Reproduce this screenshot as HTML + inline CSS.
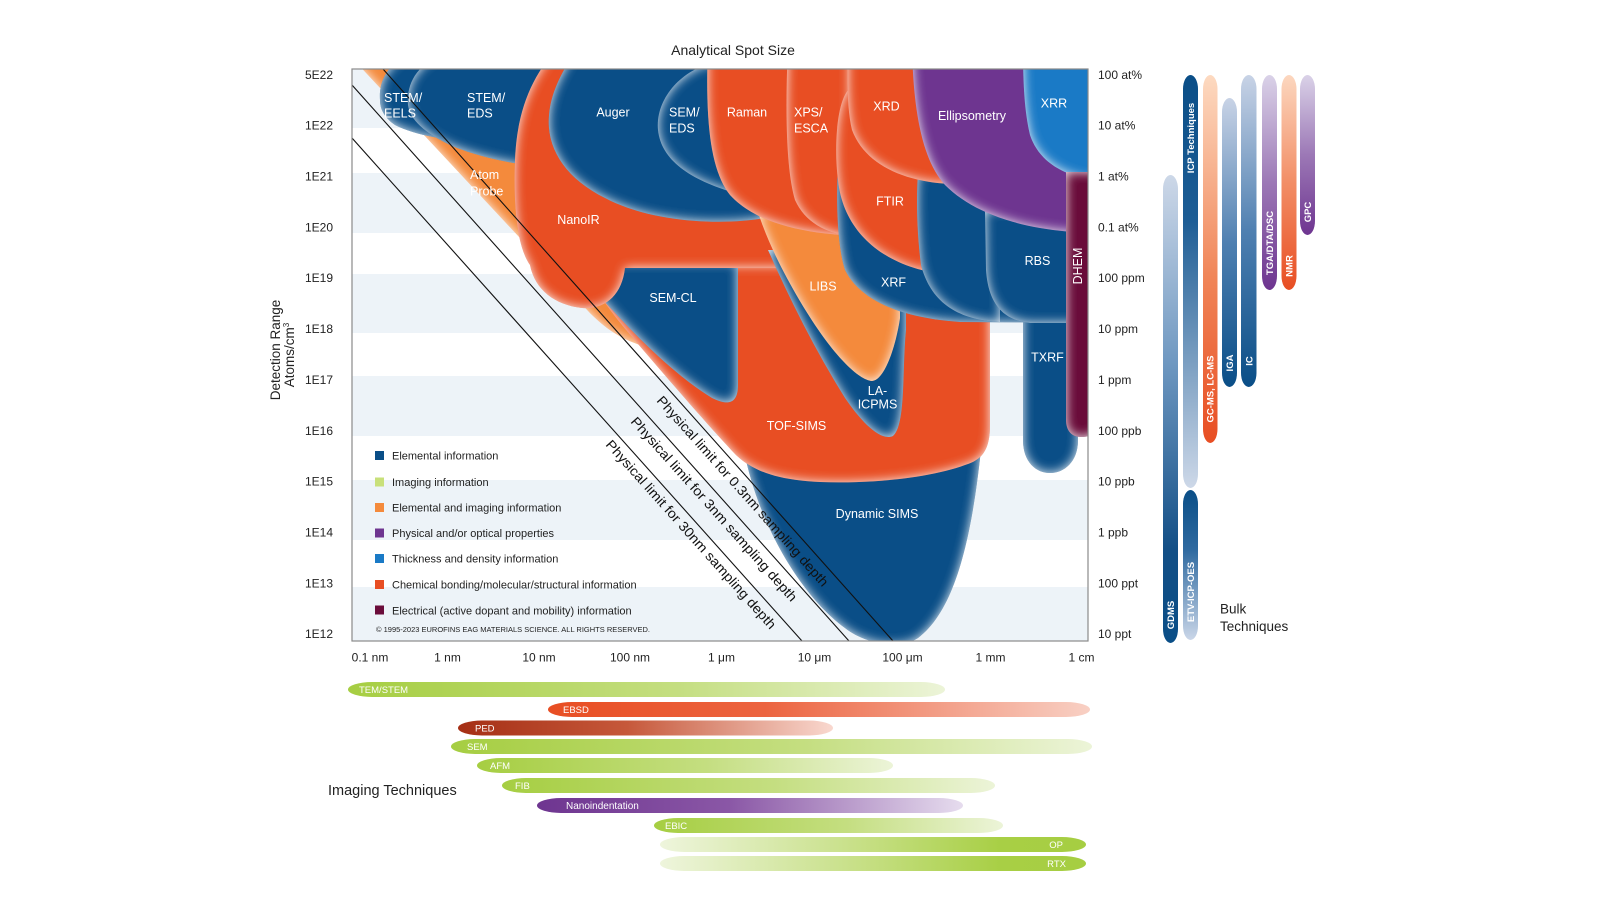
<!DOCTYPE html>
<html>
<head>
<meta charset="utf-8">
<style>
  html,body{margin:0;padding:0;background:#fff;}
  svg{display:block;}
  text{font-family:"Liberation Sans",Arial,sans-serif;}
</style>
</head>
<body>
<svg width="1600" height="900" viewBox="0 0 1600 900" xmlns="http://www.w3.org/2000/svg">
<defs>
  <clipPath id="plot"><rect x="352" y="69" width="736" height="572"/></clipPath>
  <filter id="glow" x="-10%" y="-10%" width="120%" height="120%" color-interpolation-filters="sRGB">
    <feGaussianBlur in="SourceAlpha" stdDeviation="5.5" result="b"/>
    <feComponentTransfer in="b" result="inv"><feFuncA type="table" tableValues="1 0"/></feComponentTransfer>
    <feFlood flood-color="#ffffff" flood-opacity="0.95" result="w"/>
    <feComposite in="w" in2="inv" operator="in" result="wi"/>
    <feComposite in="wi" in2="SourceAlpha" operator="in" result="gl"/>
    <feMerge><feMergeNode in="SourceGraphic"/><feMergeNode in="gl"/></feMerge>
  </filter>
  <!-- bulk gradients (vertical) -->
  <linearGradient id="gGDMS" x1="0" y1="0" x2="0" y2="1"><stop offset="0" stop-color="#cdd8e8"/><stop offset="0.4" stop-color="#6f98c1"/><stop offset="0.8" stop-color="#134f86"/><stop offset="1" stop-color="#0a4e87"/></linearGradient>
  <linearGradient id="gICP" x1="0" y1="0" x2="0" y2="1"><stop offset="0" stop-color="#0a4e87"/><stop offset="0.35" stop-color="#1d5d95"/><stop offset="1" stop-color="#cdd8e8"/></linearGradient>
  <linearGradient id="gETV" x1="0" y1="0" x2="0" y2="1"><stop offset="0" stop-color="#0a4e87"/><stop offset="0.4" stop-color="#2f6aa0"/><stop offset="1" stop-color="#cad6e8"/></linearGradient>
  <linearGradient id="gGC" x1="0" y1="0" x2="0" y2="1"><stop offset="0" stop-color="#fddac1"/><stop offset="0.55" stop-color="#f08558"/><stop offset="1" stop-color="#e84e23"/></linearGradient>
  <linearGradient id="gIGA" x1="0" y1="0" x2="0" y2="1"><stop offset="0" stop-color="#c8d3e6"/><stop offset="0.5" stop-color="#4f80b1"/><stop offset="1" stop-color="#0a4e87"/></linearGradient>
  <linearGradient id="gTGA" x1="0" y1="0" x2="0" y2="1"><stop offset="0" stop-color="#dad2e8"/><stop offset="0.5" stop-color="#9c78b6"/><stop offset="1" stop-color="#6e3590"/></linearGradient>
  <linearGradient id="gNMR" x1="0" y1="0" x2="0" y2="1"><stop offset="0" stop-color="#fcd7bf"/><stop offset="0.5" stop-color="#f28e66"/><stop offset="1" stop-color="#e84e23"/></linearGradient>
  <!-- imaging gradients (horizontal) -->
  <linearGradient id="hGreen" x1="0" y1="0" x2="1" y2="0"><stop offset="0" stop-color="#a6ce42"/><stop offset="0.55" stop-color="#c4de80"/><stop offset="1" stop-color="#ecf4d8"/></linearGradient>
  <linearGradient id="hGreenR" x1="0" y1="0" x2="1" y2="0"><stop offset="0" stop-color="#eef5dc"/><stop offset="0.5" stop-color="#c4de80"/><stop offset="0.8" stop-color="#a8cf45"/><stop offset="1" stop-color="#a6ce42"/></linearGradient>
  <linearGradient id="hRed" x1="0" y1="0" x2="1" y2="0"><stop offset="0" stop-color="#e84e23"/><stop offset="0.4" stop-color="#ec6440"/><stop offset="1" stop-color="#f8d0c4"/></linearGradient>
  <linearGradient id="hPED" x1="0" y1="0" x2="1" y2="0"><stop offset="0" stop-color="#a52f15"/><stop offset="0.45" stop-color="#c6583a"/><stop offset="1" stop-color="#f9d8cf"/></linearGradient>
  <linearGradient id="hPur" x1="0" y1="0" x2="1" y2="0"><stop offset="0" stop-color="#6e3590"/><stop offset="0.45" stop-color="#8a57a6"/><stop offset="1" stop-color="#e6dcee"/></linearGradient>
</defs>

<rect width="1600" height="900" fill="#ffffff"/>

<!-- plot background bands -->
<g fill="#edf3f8">
  <rect x="352" y="69" width="736" height="59"/>
  <rect x="352" y="173" width="736" height="60"/>
  <rect x="352" y="274" width="736" height="59"/>
  <rect x="352" y="376" width="736" height="60"/>
  <rect x="352" y="480" width="736" height="60"/>
  <rect x="352" y="587" width="736" height="54"/>
</g>

<!-- technique regions -->
<g clip-path="url(#plot)">
  <!-- Atom Probe -->
  <path filter="url(#glow)" fill="#f48a3c" d="M340,45 L438,150 L590,313 C610,333 630,345 662,350 L690,300 L640,40 Z"/>
  <!-- Dynamic SIMS -->
  <path filter="url(#glow)" fill="#0a4e87" d="M742,440 C755,520 800,595 845,628 C865,644 900,650 918,638 C955,610 972,540 982,440 Z"/>
  <!-- TOF-SIMS -->
  <path filter="url(#glow)" fill="#e84e23" d="M580,265 L990,265 L990,425 C990,450 982,460 965,465 C930,478 870,484 820,482 C775,480 752,470 736,455 C705,422 662,372 632,337 C612,314 595,290 580,265 Z"/>
  <!-- SEM-CL -->
  <path filter="url(#glow)" fill="#0a4e87" d="M588,262 L738,262 L738,385 C738,404 728,406 712,398 C670,372 630,330 596,292 Z"/>
  <!-- STEM/EELS -->
  <path filter="url(#glow)" fill="#0a4e87" d="M380,100 C378,70 400,52 440,45 L520,45 L520,140 C470,145 420,138 395,125 C385,118 380,110 380,100 Z"/>
  <!-- STEM/EDS -->
  <path filter="url(#glow)" fill="#0a4e87" d="M408,105 C406,80 420,62 450,50 L560,50 L560,168 C520,166 480,158 450,145 C425,133 410,120 408,105 Z"/>
  <!-- NanoIR -->
  <path filter="url(#glow)" fill="#e84e23" d="M560,45 L790,45 L790,268 L625,268 C622,295 605,310 582,308 C555,305 535,290 530,265 C518,248 513,210 515,160 C517,110 532,75 560,45 Z"/>
  <!-- Auger -->
  <path filter="url(#glow)" fill="#0a4e87" d="M580,45 L765,45 L765,218 C720,226 650,222 605,198 C565,178 546,148 549,115 C551,92 562,70 580,45 Z"/>
  <!-- SEM/EDS -->
  <path filter="url(#glow)" fill="#0a4e87" d="M715,62 C680,70 655,100 658,130 C661,160 690,180 735,193 L740,62 Z"/>
  <!-- LA-ICPMS -->
  <path filter="url(#glow)" fill="#0a4e87" d="M768,250 L906,250 L906,330 C902,370 906,425 893,436 C880,442 860,420 845,398 C815,350 790,300 768,250 Z"/>
  <!-- LIBS -->
  <path filter="url(#glow)" fill="#f48a3c" d="M758,212 L900,212 L900,318 C896,345 885,380 872,381 C858,380 835,355 815,325 C795,295 770,250 758,212 Z"/>
  <!-- Raman -->
  <path filter="url(#glow)" fill="#e84e23" d="M708,45 C705,120 710,170 730,195 C755,222 800,234 860,236 L860,45 Z"/>
  <!-- XPS/ESCA -->
  <path filter="url(#glow)" fill="#e84e23" d="M788,45 C785,110 786,170 795,200 C805,222 825,233 850,236 L850,45 Z"/>
  <!-- TXRF -->
  <path filter="url(#glow)" fill="#0a4e87" d="M1023,300 L1078,300 L1078,440 C1078,462 1064,473 1050,473 C1036,473 1023,462 1023,440 Z"/>
  <!-- XRF -->
  <path filter="url(#glow)" fill="#0a4e87" d="M838,165 L1110,165 L1110,323 L960,322 C900,318 860,300 845,270 C837,245 836,200 838,165 Z"/>
  <!-- FTIR -->
  <path filter="url(#glow)" fill="#e84e23" d="M850,88 C836,100 834,150 838,180 C843,230 880,262 930,272 L935,88 Z"/>
  <!-- middle blue blob -->
  <path filter="url(#glow)" fill="#0a4e87" d="M918,172 L1000,172 L1000,322 C955,320 930,300 921,265 C917,235 916,200 918,172 Z"/>
  <!-- RBS -->
  <path filter="url(#glow)" fill="#0a4e87" d="M985,210 L1110,210 L1110,323 L1030,323 C1000,320 988,300 986,270 Z"/>
  <!-- XRD -->
  <path filter="url(#glow)" fill="#e84e23" d="M848,45 L950,45 L950,184 C905,182 865,165 852,130 C847,110 847,80 848,45 Z"/>
  <!-- Ellipsometry -->
  <path filter="url(#glow)" fill="#6e3590" d="M912,45 L1110,45 L1110,233 C1030,234 975,215 945,185 C922,160 913,110 912,45 Z"/>
  <!-- XRR -->
  <path filter="url(#glow)" fill="#1a7ac6" d="M1023,45 L1110,45 L1110,181 C1070,180 1040,165 1030,135 C1024,110 1023,80 1023,45 Z"/>
  <!-- DHEM -->
  <path filter="url(#glow)" fill="#6a0c3a" d="M1066,172 L1100,172 L1100,420 C1100,432 1092,437 1081,437 C1071,437 1066,430 1066,420 Z"/>

  <!-- physical limit lines -->
  <g stroke="#111" stroke-width="1.1">
    <line x1="383" y1="69" x2="893" y2="641"/>
    <line x1="352" y1="85" x2="849" y2="641"/>
    <line x1="352" y1="138" x2="802" y2="641"/>
  </g>
</g>

<!-- plot border -->
<rect x="352" y="69" width="736" height="572" fill="none" stroke="#8a8a8a" stroke-width="1.2"/>

<!-- region labels -->
<g fill="#ffffff" font-size="12.5">
  <text x="384" y="102">STEM/</text>
  <text x="384" y="117.5">EELS</text>
  <text x="467" y="102">STEM/</text>
  <text x="467" y="117.5">EDS</text>
  <text x="470" y="179">Atom</text>
  <text x="470" y="195.5">Probe</text>
  <text x="613" y="116.5" text-anchor="middle">Auger</text>
  <text x="669" y="116.5">SEM/</text>
  <text x="669" y="132.5">EDS</text>
  <text x="747" y="116.5" text-anchor="middle">Raman</text>
  <text x="794" y="116.5">XPS/</text>
  <text x="794" y="132.5">ESCA</text>
  <text x="578.5" y="224" text-anchor="middle">NanoIR</text>
  <text x="673" y="302" text-anchor="middle">SEM-CL</text>
  <text x="823" y="290.5" text-anchor="middle">LIBS</text>
  <text x="886.5" y="110.5" text-anchor="middle">XRD</text>
  <text x="972" y="120" text-anchor="middle">Ellipsometry</text>
  <text x="1054" y="107.5" text-anchor="middle">XRR</text>
  <text x="890" y="205.5" text-anchor="middle">FTIR</text>
  <text x="893.5" y="286.5" text-anchor="middle">XRF</text>
  <text x="1037.5" y="265" text-anchor="middle">RBS</text>
  <text x="1047.5" y="361.5" text-anchor="middle">TXRF</text>
  <text x="877.5" y="395" text-anchor="middle">LA-</text>
  <text x="877.5" y="408.5" text-anchor="middle">ICPMS</text>
  <text x="796.5" y="430" text-anchor="middle">TOF-SIMS</text>
  <text x="877" y="518" text-anchor="middle">Dynamic SIMS</text>
  <text transform="translate(1082,266) rotate(-90)" text-anchor="middle">DHEM</text>
</g>

<!-- physical limit texts -->
<g fill="#111" font-size="13.5">
  <text transform="translate(656,401) rotate(48.24)" textLength="250" lengthAdjust="spacingAndGlyphs">Physical limit for 0.3nm sampling depth</text>
  <text transform="translate(630,422) rotate(48.24)" textLength="242" lengthAdjust="spacingAndGlyphs">Physical limit for 3nm sampling depth</text>
  <text transform="translate(605,445) rotate(48.24)" textLength="248" lengthAdjust="spacingAndGlyphs">Physical limit for 30nm sampling depth</text>
</g>

<!-- legend -->
<g font-size="11" fill="#222">
  <rect x="375" y="451" width="9" height="9" fill="#0a4e87"/>
  <text x="392" y="459.7">Elemental information</text>
  <rect x="375" y="477.5" width="9" height="9" fill="#c8e07a"/>
  <text x="392" y="486">Imaging information</text>
  <rect x="375" y="503" width="9" height="9" fill="#f48a3c"/>
  <text x="392" y="511.7">Elemental and imaging information</text>
  <rect x="375" y="528.5" width="9" height="9" fill="#6e3590"/>
  <text x="392" y="537">Physical and/or optical properties</text>
  <rect x="375" y="554" width="9" height="9" fill="#1a7ac6"/>
  <text x="392" y="562.7">Thickness and density information</text>
  <rect x="375" y="580" width="9" height="9" fill="#e84e23"/>
  <text x="392" y="588.7">Chemical bonding/molecular/structural information</text>
  <rect x="375" y="605.5" width="9" height="9" fill="#6a0c3a"/>
  <text x="392" y="614.3">Electrical (active dopant and mobility) information</text>
  <text x="376" y="632" font-size="7.5" textLength="274" lengthAdjust="spacingAndGlyphs">© 1995-2023 EUROFINS EAG MATERIALS SCIENCE. ALL RIGHTS RESERVED.</text>
</g>

<!-- title & axis titles -->
<text x="733" y="55" font-size="14" fill="#222" text-anchor="middle">Analytical Spot Size</text>
<text transform="translate(280,350) rotate(-90)" font-size="13.5" fill="#222" text-anchor="middle">Detection Range</text>
<text transform="translate(294,355) rotate(-90)" font-size="13.5" fill="#222" text-anchor="middle">Atoms/cm<tspan font-size="8" dy="-5">3</tspan></text>

<!-- left y labels -->
<g font-size="12" fill="#222" text-anchor="end">
  <text x="333" y="78.8">5E22</text>
  <text x="333" y="129.7">1E22</text>
  <text x="333" y="180.5">1E21</text>
  <text x="333" y="231.4">1E20</text>
  <text x="333" y="282.2">1E19</text>
  <text x="333" y="333.1">1E18</text>
  <text x="333" y="383.9">1E17</text>
  <text x="333" y="434.8">1E16</text>
  <text x="333" y="485.6">1E15</text>
  <text x="333" y="536.5">1E14</text>
  <text x="333" y="587.3">1E13</text>
  <text x="333" y="638.2">1E12</text>
</g>
<!-- right y labels -->
<g font-size="12" fill="#222">
  <text x="1098" y="78.8">100 at%</text>
  <text x="1098" y="129.7">10 at%</text>
  <text x="1098" y="180.5">1 at%</text>
  <text x="1098" y="231.4">0.1 at%</text>
  <text x="1098" y="282.2">100 ppm</text>
  <text x="1098" y="333.1">10 ppm</text>
  <text x="1098" y="383.9">1 ppm</text>
  <text x="1098" y="434.8">100 ppb</text>
  <text x="1098" y="485.6">10 ppb</text>
  <text x="1098" y="536.5">1 ppb</text>
  <text x="1098" y="587.3">100 ppt</text>
  <text x="1098" y="638.2">10 ppt</text>
</g>
<!-- x labels -->
<g font-size="12" fill="#222" text-anchor="middle">
  <text x="370" y="661.5">0.1 nm</text>
  <text x="447.5" y="661.5">1 nm</text>
  <text x="539" y="661.5">10 nm</text>
  <text x="630" y="661.5">100 nm</text>
  <text x="721.5" y="661.5">1 μm</text>
  <text x="814.5" y="661.5">10 μm</text>
  <text x="902.5" y="661.5">100 μm</text>
  <text x="990.5" y="661.5">1 mm</text>
  <text x="1081.5" y="661.5">1 cm</text>
</g>

<!-- bulk techniques -->
<g>
  <rect x="1163" y="175" width="15" height="468" rx="7.5" ry="14" fill="url(#gGDMS)"/>
  <rect x="1183" y="75" width="15" height="413" rx="7.5" ry="14" fill="url(#gICP)"/>
  <rect x="1183" y="490" width="15" height="150" rx="7.5" ry="14" fill="url(#gETV)"/>
  <rect x="1203" y="75" width="14.5" height="368" rx="7.25" ry="14" fill="url(#gGC)"/>
  <rect x="1222" y="98" width="15" height="289" rx="7.5" ry="14" fill="url(#gIGA)"/>
  <rect x="1241" y="75" width="15.5" height="312" rx="7.75" ry="14" fill="url(#gIGA)"/>
  <rect x="1262" y="75" width="15" height="215" rx="7.5" ry="14" fill="url(#gTGA)"/>
  <rect x="1281.5" y="75" width="15" height="215" rx="7.5" ry="14" fill="url(#gNMR)"/>
  <rect x="1300" y="75" width="15" height="160" rx="7.5" ry="14" fill="url(#gTGA)"/>
</g>
<g fill="#ffffff" font-size="9.5" font-weight="bold" text-anchor="middle">
  <text transform="translate(1174,615) rotate(-90)">GDMS</text>
  <text transform="translate(1194,138) rotate(-90)">ICP Techniques</text>
  <text transform="translate(1194,592) rotate(-90)">ETV-ICP-OES</text>
  <text transform="translate(1213.5,389) rotate(-90)">GC-MS, LC-MS</text>
  <text transform="translate(1233,363) rotate(-90)">IGA</text>
  <text transform="translate(1252.5,361) rotate(-90)">IC</text>
  <text transform="translate(1273,243) rotate(-90)">TGA/DTA/DSC</text>
  <text transform="translate(1292.5,266) rotate(-90)">NMR</text>
  <text transform="translate(1311,212) rotate(-90)">GPC</text>
</g>
<text x="1220" y="613.5" font-size="13.5" fill="#222">Bulk</text>
<text x="1220" y="631" font-size="13.5" fill="#222">Techniques</text>

<!-- imaging techniques -->
<g>
  <rect x="348" y="682" width="597" height="15" rx="24" ry="7.5" fill="url(#hGreen)"/>
  <rect x="548" y="702" width="542" height="15" rx="24" ry="7.5" fill="url(#hRed)"/>
  <rect x="458" y="720.5" width="375" height="15" rx="24" ry="7.5" fill="url(#hPED)"/>
  <rect x="451" y="739" width="641" height="15" rx="24" ry="7.5" fill="url(#hGreen)"/>
  <rect x="477" y="758" width="416" height="15" rx="24" ry="7.5" fill="url(#hGreen)"/>
  <rect x="502" y="778" width="493" height="15" rx="24" ry="7.5" fill="url(#hGreen)"/>
  <rect x="537" y="798" width="426" height="15" rx="24" ry="7.5" fill="url(#hPur)"/>
  <rect x="654" y="818" width="349" height="15" rx="24" ry="7.5" fill="url(#hGreen)"/>
  <rect x="660" y="837" width="426" height="15" rx="24" ry="7.5" fill="url(#hGreenR)"/>
  <rect x="660" y="856" width="426" height="15" rx="24" ry="7.5" fill="url(#hGreenR)"/>
</g>
<g fill="#ffffff" font-size="9.5">
  <text x="359" y="693">TEM/STEM</text>
  <text x="563" y="713">EBSD</text>
  <text x="475" y="731.5">PED</text>
  <text x="467" y="750">SEM</text>
  <text x="490" y="769">AFM</text>
  <text x="515" y="789">FIB</text>
  <text x="566" y="809" font-size="10">Nanoindentation</text>
  <text x="665" y="829">EBIC</text>
  <text x="1063" y="848" text-anchor="end">OP</text>
  <text x="1066" y="867" text-anchor="end">RTX</text>
</g>
<text x="328" y="795" font-size="14.5" fill="#222">Imaging Techniques</text>
</svg>
</body>
</html>
